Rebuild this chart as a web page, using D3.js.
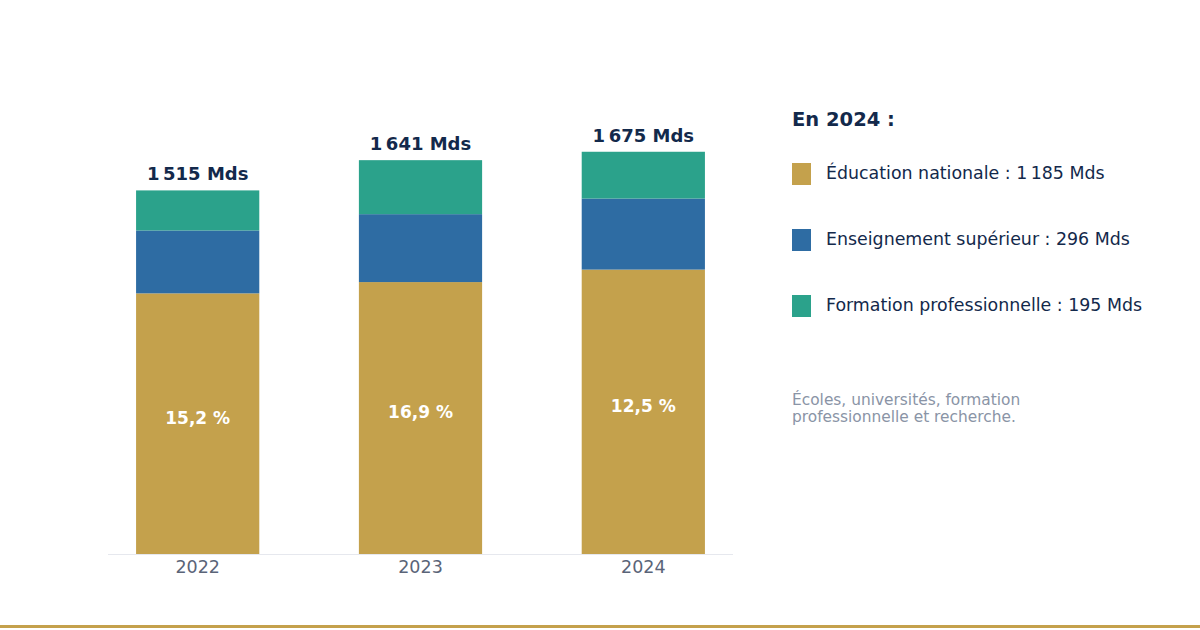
<html>
<head>
    <meta charset="utf-8">
    <script src="https://cdnjs.cloudflare.com/ajax/libs/d3/7.8.5/d3.min.js"></script>
    <style>
        body { margin: 0; background: #fff; }
    </style>
</head>
<body>
    <script>
        const years = ['2022', '2023', '2024'];
        const education = [1086, 1133, 1185];
        const superieur = [262, 283, 296];
        const formation = [167, 225, 195];
        const totals = ['1\u202f515 Mds', '1\u202f641 Mds', '1\u202f675 Mds'];
        const shares = ['15,2 %', '16,9 %', '12,5 %'];
        const seriesNames = ['education', 'superieur', 'formation'];
        const legendLabels = [
            'Éducation nationale : 1\u202f185 Mds',
            'Enseignement supérieur : 296 Mds',
            'Formation professionnelle : 195 Mds'
        ];
        const colors = ['#c4a14c', '#2e6ca3', '#2ba28b'];

        const width = 1200;
        const height = 630;
        const navy = '#13294b';
        const font = '"DejaVu Sans", sans-serif';

        const svg = d3.select('body').append('svg')
            .attr('width', width)
            .attr('height', height);

        // table for d3.stack, built from the arrays above
        const rows = years.map((y, i) => ({
            year: y,
            education: education[i],
            superieur: superieur[i],
            formation: formation[i]
        }));
        const stacked = d3.stack().keys(seriesNames)(rows);

        const x = d3.scaleBand()
            .domain(years)
            .range([108, 733])
            .paddingInner(0.447)
            .paddingOuter(0.126);

        const y = d3.scaleLinear()
            .domain([0, 1800])
            .range([554, 122]);

        // baseline
        svg.append('line')
            .attr('x1', 108).attr('x2', 733)
            .attr('y1', y(0) + 0.5).attr('y2', y(0) + 0.5)
            .style('stroke', '#e6e8ee');

        svg.append('g').selectAll('g')
            .data(stacked)
            .enter().append('g')
            .style('fill', (d, i) => colors[i])
            .selectAll('rect')
            .data(d => d)
            .enter().append('rect')
            .attr('x', d => x(d.data.year))
            .attr('width', x.bandwidth())
            .attr('y', d => y(d[1]))
            .attr('height', d => y(d[0]) - y(d[1]));

        const xAxis = svg.append('g')
            .attr('transform', `translate(0, ${y(0)})`)
            .call(d3.axisBottom(x).tickSize(0).tickPadding(7));
        xAxis.select('.domain').remove();
        xAxis.selectAll('text')
            .attr('font-size', 17.5)
            .attr('font-family', font)
            .style('fill', '#5a6478');

        // totals above bars
        const topLayer = stacked[stacked.length - 1];
        svg.append('g').selectAll('text')
            .data(topLayer)
            .enter().append('text')
            .attr('x', d => x(d.data.year) + x.bandwidth() / 2)
            .attr('y', d => y(d[1]) - 10)
            .attr('text-anchor', 'middle')
            .attr('font-family', font)
            .attr('font-weight', 'bold')
            .attr('font-size', 18)
            .style('fill', navy)
            .text((d, i) => totals[i]);

        // shares inside the gold segment
        svg.append('g').selectAll('text')
            .data(stacked[0])
            .enter().append('text')
            .attr('x', d => x(d.data.year) + x.bandwidth() / 2)
            .attr('y', d => (y(d[0]) + y(d[1])) / 2 - 6)
            .attr('dy', '0.35em')
            .attr('text-anchor', 'middle')
            .attr('font-family', font)
            .attr('font-weight', 'bold')
            .attr('font-size', 17)
            .style('fill', '#fff')
            .text((d, i) => shares[i]);

        // legend
        const legend = svg.append('g').attr('transform', 'translate(792, 0)');
        legend.append('text')
            .attr('x', 0).attr('y', 126)
            .attr('font-family', font)
            .attr('font-weight', 'bold')
            .attr('font-size', 19.5)
            .style('fill', navy)
            .text('En 2024 :');

        const item = legend.selectAll('.item')
            .data(legendLabels)
            .enter().append('g')
            .attr('class', 'item')
            .attr('transform', (d, i) => `translate(0, ${163 + i * 66})`);
        item.append('rect')
            .attr('width', 19).attr('height', 22)
            .style('fill', (d, i) => colors[i]);
        item.append('text')
            .attr('x', 34).attr('y', 15.5)
            .attr('font-family', font)
            .attr('font-size', 17.4)
            .style('fill', navy)
            .text(d => d);

        const note = legend.append('text')
            .attr('font-family', font)
            .attr('font-size', 15.4)
            .style('fill', '#8a94a6');
        note.append('tspan').attr('x', 0).attr('y', 405).text('Écoles, universités, formation');
        note.append('tspan').attr('x', 0).attr('y', 422).text('professionnelle et recherche.');

        // bottom rule
        svg.append('rect')
            .attr('x', 0).attr('y', 625)
            .attr('width', width).attr('height', 3)
            .style('fill', '#c4a14c');
    </script>
</body>
</html>
